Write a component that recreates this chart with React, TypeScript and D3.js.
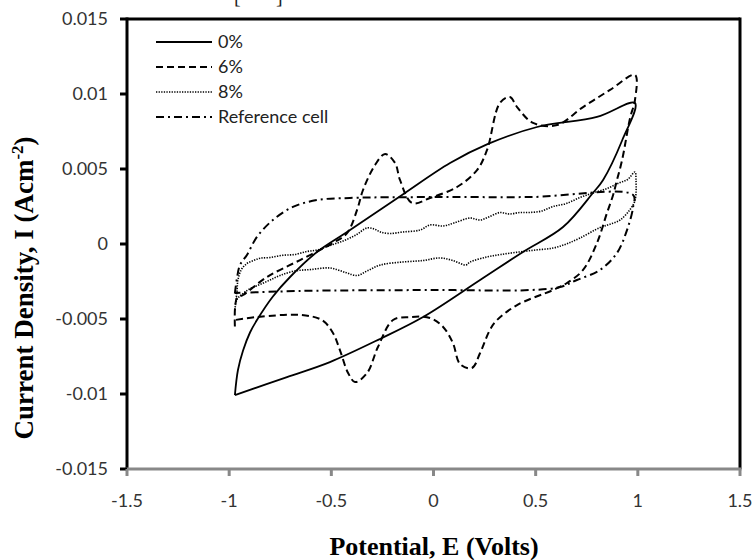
import React from "react";
import * as d3 from "d3";

// ---- data ----
const xTicks = [-1.5, -1, -0.5, 0, 0.5, 1, 1.5];
const yTicks = [-0.015, -0.01, -0.005, 0, 0.005, 0.01, 0.015];
const seriesNames = ["0%", "6%", "8%", "Reference cell"];

// 0% (solid)
const pot0 = [-0.972, -0.957, -0.932, -0.898, -0.864, -0.786, -0.702, -0.57, -0.423, -0.154, 0.081, 0.267, 0.507, 0.8, 0.986,
  0.923, 0.83, 0.78, 0.634, 0.438, 0.228, -0.051, -0.262, -0.507, -0.717, -0.972];
const cur0 = [-0.01007, -0.0084, -0.0071, -0.0059, -0.00507, -0.0035, -0.0022, -0.00053, 0.0008, 0.00327, 0.0054, 0.00667, 0.0078, 0.00847, 0.0094,
  0.0069, 0.00427, 0.0034, 0.00113, -0.00053, -0.0024, -0.00487, -0.00633, -0.00787, -0.00887, -0.01007];

// 6% (dashed)
const pot6 = [-0.972, -0.962, -0.932, -0.815, -0.653, -0.492, -0.423, -0.374, -0.345, -0.286, -0.237, -0.188, -0.164, -0.105,
  -0.017, 0.115, 0.213, 0.262, 0.325, 0.374, 0.409, 0.487, 0.605, 0.732, 0.864, 0.986,
  0.986, 0.962, 0.923, 0.898, 0.879, 0.849, 0.8, 0.732, 0.653, 0.585, 0.409, 0.311, 0.276, 0.228, 0.188, 0.13, 0.095,
  0.047, -0.017, -0.115, -0.198, -0.272, -0.325, -0.384, -0.418, -0.458, -0.492, -0.546, -0.653, -0.864, -0.972];
const cur6 = [-0.0055, -0.0036, -0.0034, -0.0022, -0.00107, 0.00007, 0.00073, 0.00227, 0.0036, 0.00527, 0.006, 0.0054, 0.00427, 0.00273,
  0.00307, 0.0038, 0.00493, 0.00627, 0.0094, 0.0098, 0.00913, 0.00807, 0.00793, 0.00913, 0.01027, 0.01127,
  0.0096, 0.0084, 0.0056, 0.00427, 0.00327, 0.00207, 0.00007, -0.00173, -0.0026, -0.00307, -0.00407, -0.00507, -0.00573, -0.00727, -0.00827, -0.008, -0.0066,
  -0.00553, -0.00493, -0.00487, -0.00507, -0.00687, -0.0086, -0.0092, -0.0086, -0.00707, -0.00593, -0.00507, -0.00473, -0.00487, -0.00507];

// 8% (dotted)
const pot8 = [-0.972, -0.962, -0.957, -0.94, -0.913, -0.88, -0.849, -0.8, -0.737, -0.68, -0.62, -0.57, -0.507, -0.443, -0.38, -0.325,
  -0.29, -0.26, -0.213, -0.15, -0.066, -0.017, 0.047, 0.1, 0.179, 0.228, 0.27, 0.325, 0.37, 0.423, 0.47, 0.53, 0.585, 0.65, 0.717,
  0.78, 0.849, 0.913, 0.95, 0.986,
  0.991, 0.986, 0.962, 0.913, 0.86, 0.815, 0.717, 0.65, 0.585, 0.5, 0.42, 0.33, 0.26, 0.179, 0.159, 0.095, 0.03, -0.05, -0.15,
  -0.26, -0.325, -0.374, -0.43, -0.507, -0.6, -0.68, -0.751, -0.8, -0.849, -0.9, -0.932, -0.962, -0.972];
const cur8 = [-0.0044, -0.0032, -0.0024, -0.0017, -0.0013, -0.0011, -0.00095, -0.0009, -0.00075, -0.0007, -0.0005, -0.0004, -0.0001, 0.0002, 0.0006, 0.00107,
  0.001, 0.0008, 0.0007, 0.0008, 0.00093, 0.00127, 0.0012, 0.0014, 0.00173, 0.0016, 0.0018, 0.0021, 0.002, 0.0021, 0.0021, 0.0022, 0.0025, 0.0027, 0.0031,
  0.0034, 0.0037, 0.0041, 0.0043, 0.0048,
  0.0043, 0.0029, 0.0023, 0.0016, 0.0013, 0.0011, 0.0004, 0.0, -0.00027, -0.0004, -0.00053, -0.0007, -0.00087, -0.0012, -0.0014, -0.0011, -0.00093, -0.0011, -0.0012,
  -0.0014, -0.0018, -0.0021, -0.0019, -0.0016, -0.0017, -0.0018, -0.0021, -0.0024, -0.0027, -0.003, -0.0033, -0.0037, -0.0044];

// Reference cell (dash-dot)
const potRef = [-0.972, -0.962, -0.947, -0.913, -0.864, -0.786, -0.688, -0.57, -0.409, 0, 0.473, 0.977,
  0.977, 0.947, 0.898, 0.815, 0.702, 0.619, 0.473, 0, -0.653, -0.972];
const curRef = [-0.0033, -0.0023, -0.0014, -0.00073, 0.00047, 0.0016, 0.00247, 0.00293, 0.00307, 0.00313, 0.00313, 0.00327,
  0.00247, 0.00093, -0.0006, -0.00173, -0.0024, -0.00287, -0.00307, -0.00307, -0.00313, -0.00327];

const series = [
  { name: seriesNames[0], pot: pot0, cur: cur0, dash: "", width: 1.8 },
  { name: seriesNames[1], pot: pot6, cur: cur6, dash: "7,4", width: 2 },
  { name: seriesNames[2], pot: pot8, cur: cur8, dash: "1.3,1.3", width: 1.6 },
  { name: seriesNames[3], pot: potRef, cur: curRef, dash: "8,4,2,4", width: 2 },
];

const W = 755, H = 560;
const L = 127, R = 740, T = 19, B = 469;
const tickFont = "Lato, 'Open Sans', sans-serif";
const titleFont = "'Liberation Serif', 'Times New Roman', serif";

export default function App() {
  const x = d3.scaleLinear().domain([-1.5, 1.5]).range([L, R]);
  const y = d3.scaleLinear().domain([-0.015, 0.015]).range([B, T]);
  const line = d3.line<[number, number]>()
    .x((d) => x(d[0]))
    .y((d) => y(d[1]))
    .curve(d3.curveCatmullRom.alpha(0.5));

  return (
    <svg width={W} height={H} style={{ position: "absolute", left: 0, top: 0, background: "#fff" }}>
      <rect x={0} y={0} width={W} height={H} fill="#fff" />
      {/* fragment of text above the chart, cut off by the image edge */}
      <text x={234} y={3} fontFamily={titleFont} fontSize={20} fill="#222">[</text>
      <text x={276} y={3} fontFamily={titleFont} fontSize={20} fill="#222">]</text>

      {/* curves */}
      <g clipPath="url(#clip)">
        {series.map((s) => (
          <path
            key={s.name}
            d={line(s.pot.map((p, i) => [p, s.cur[i]] as [number, number])) || ""}
            fill="none"
            stroke="#000"
            strokeWidth={s.width}
            strokeDasharray={s.dash || undefined}
            strokeLinejoin="round"
          />
        ))}
      </g>

      {/* frame */}
      <line x1={L} y1={T} x2={R} y2={T} stroke="#000" strokeWidth={3} />
      <line x1={R} y1={T - 1.5} x2={R} y2={B} stroke="#000" strokeWidth={3} />
      <line x1={L} y1={T - 1.5} x2={L} y2={B} stroke="#000" strokeWidth={3} />
      <line x1={L - 1.5} y1={B} x2={R + 1.5} y2={B} stroke="#888" strokeWidth={3} />

      {/* y ticks */}
      {yTicks.map((t) => (
        <g key={"y" + t}>
          <line x1={L - 7} x2={L} y1={y(t)} y2={y(t)} stroke="#000" strokeWidth={3} />
          <text x={108} y={y(t)} dy="0.35em" textAnchor="end" fontFamily={tickFont} fontSize={18} fill="#333">
            {String(t)}
          </text>
        </g>
      ))}
      {/* x ticks */}
      {xTicks.map((t) => (
        <g key={"x" + t}>
          <line x1={x(t)} x2={x(t)} y1={B} y2={B + 7} stroke="#888" strokeWidth={3} />
          <text x={x(t)} y={507} textAnchor="middle" fontFamily={tickFont} fontSize={18} fill="#333">
            {String(t)}
          </text>
        </g>
      ))}

      {/* axis titles */}
      <text x={434} y={555} textAnchor="middle" fontFamily={titleFont} fontWeight="bold" fontSize={26} fill="#000">
        Potential, E (Volts)
      </text>
      <text transform="translate(33,288) rotate(-90)" textAnchor="middle" fontFamily={titleFont} fontWeight="bold" fontSize={27} fill="#000">
        Current Density, I (Acm<tspan fontSize={17} dy={-10}>-2</tspan><tspan dy={10}>)</tspan>
      </text>

      {/* legend */}
      {series.map((s, i) => {
        const ly = 42 + i * 25;
        return (
          <g key={"lg" + s.name}>
            <line x1={156} x2={212} y1={ly} y2={ly} stroke="#000" strokeWidth={s.width} strokeDasharray={s.dash || undefined} />
            <text x={218} y={ly} dy="0.35em" fontFamily={tickFont} fontSize={18} fill="#222">{s.name}</text>
          </g>
        );
      })}
      <defs>
        <clipPath id="clip">
          <rect x={L} y={T} width={R - L} height={B - T} />
        </clipPath>
      </defs>
    </svg>
  );
}
